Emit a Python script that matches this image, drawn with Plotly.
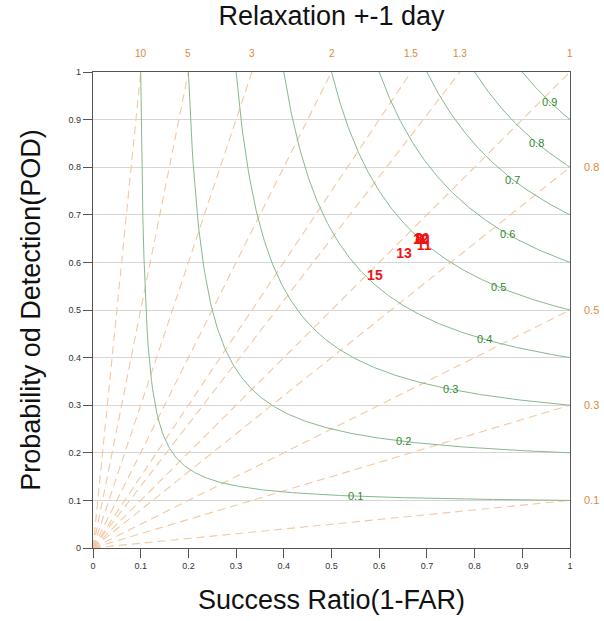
import numpy as np
import plotly.graph_objects as go

# Critical success index isolines and their label positions (success ratio)
csi_levels = [0.1, 0.2, 0.3, 0.4, 0.5, 0.6, 0.7, 0.8, 0.9]
csi_label_sr = [0.55, 0.65, 0.75, 0.82, 0.85, 0.87, 0.88, 0.93, 0.958]

# Frequency bias lines
bias_top = [10, 5, 3, 2, 1.5, 1.3, 1]
bias_top_text = ["10", "5", "3", "2", "1.5", "1.3", "1"]
bias_right = [0.8, 0.5, 0.3, 0.1]
bias_right_text = ["0.8", "0.5", "0.3", "0.1"]

# Verification points (success ratio, POD) labelled by lead
point_labels = ["8", "9", "10", "12", "11", "13", "15"]
point_sr = [0.684, 0.686, 0.689, 0.687, 0.694, 0.652, 0.591]
point_pod = [0.648, 0.647, 0.649, 0.646, 0.634, 0.617, 0.571]

ticks = [round(0.1 * i, 1) for i in range(11)]
tick_text = ["0", "0.1", "0.2", "0.3", "0.4", "0.5", "0.6", "0.7", "0.8", "0.9", "1"]

ORANGE_LINE = "#f3c8a2"
ORANGE_TEXT = "#d98a3c"
GREEN_LINE = "#86b98f"
GREEN_TEXT = "#2f8a2f"
FONT = "Liberation Sans, Arial, sans-serif"

fig = go.Figure()

# bias lines: POD = bias * SR, clipped to the unit square
for b in bias_top + bias_right:
    if b >= 1:
        x_end, y_end = 1.0 / b, 1.0
    else:
        x_end, y_end = 1.0, b
    fig.add_trace(go.Scatter(
        x=[0, x_end], y=[0, y_end], mode="lines",
        line=dict(color=ORANGE_LINE, width=1.1, dash="8px,5px"),
        hoverinfo="skip", showlegend=False))

# CSI isolines: 1/CSI = 1/SR + 1/POD - 1
for c, lsr in zip(csi_levels, csi_label_sr):
    sr = np.linspace(c, 1.0, 400)
    pod = 1.0 / (1.0 / c + 1.0 - 1.0 / sr)
    fig.add_trace(go.Scatter(
        x=sr, y=pod, mode="lines",
        line=dict(color=GREEN_LINE, width=1),
        hoverinfo="skip", showlegend=False))
    lpod = 1.0 / (1.0 / c + 1.0 - 1.0 / lsr)
    fig.add_annotation(x=lsr, y=lpod, text=f"{c:.1f}", showarrow=False,
                       font=dict(family=FONT, size=11, color=GREEN_TEXT))

# bias labels along top and right edges
for b, t in zip(bias_top, bias_top_text):
    fig.add_annotation(x=1.0 / b, y=1.0, text=t, showarrow=False, yshift=19,
                       font=dict(family=FONT, size=10, color=ORANGE_TEXT))
for b, t in zip(bias_right, bias_right_text):
    fig.add_annotation(x=1.0, y=b, text=t, showarrow=False, xshift=21,
                       font=dict(family=FONT, size=11, color=ORANGE_TEXT))

# verification points
fig.add_trace(go.Scatter(
    x=point_sr, y=point_pod, mode="text", text=point_labels,
    textfont=dict(family=FONT, size=14, color="#f01414", weight="bold"),
    hoverinfo="skip", showlegend=False))

axis_common = dict(
    range=[0, 1], tickmode="array", tickvals=ticks, ticktext=tick_text,
    ticks="outside", ticklen=9, tickwidth=1, tickcolor="#555555",
    tickfont=dict(family=FONT, size=9, color="#333333"),
    showline=True, linecolor="#555555", linewidth=1.3, mirror=True,
    zeroline=False, fixedrange=True,
)

fig.update_layout(
    width=604, height=621,
    margin=dict(l=93, r=34, t=72, b=73),
    paper_bgcolor="white", plot_bgcolor="white",
    title=dict(text="Relaxation +-1 day", xref="paper", x=0.5, xanchor="center",
               y=0.99, yanchor="top",
               font=dict(family=FONT, size=27, color="#111111")),
    xaxis=dict(axis_common, showgrid=False,
               title=dict(text="Success Ratio(1-FAR)", standoff=20,
                          font=dict(family=FONT, size=27, color="#111111"))),
    yaxis=dict(axis_common, showgrid=True, gridcolor="#d6d6d6", gridwidth=1,
               title=dict(text="Probability od Detection(POD)", standoff=20,
                          font=dict(family=FONT, size=27, color="#111111"))),
)

fig.write_html("out.html")
